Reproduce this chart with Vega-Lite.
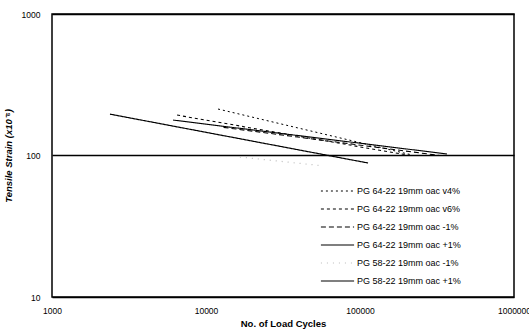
{
  "$schema": "https://vega.github.io/schema/vega-lite/v6.json",
  "width": 462,
  "height": 283,
  "autosize": {"type": "none"},
  "padding": {"left": 52, "top": 14, "right": 15, "bottom": 34},
  "background": "white",
  "config": {
    "view": {"stroke": "black", "strokeWidth": 1.5},
    "font": "Liberation Sans",
    "axis": {"labelFont": "Liberation Sans", "labelColor": "black", "titleColor": "black", "domain": false, "ticks": false}
  },
  "data": {
    "values": [
      {"series": "PG 64-22 19mm oac v4%", "cycles": 11970, "strain": 213},
      {"series": "PG 64-22 19mm oac v4%", "cycles": 217000, "strain": 101},
      {"series": "PG 64-22 19mm oac v6%", "cycles": 6490, "strain": 193},
      {"series": "PG 64-22 19mm oac v6%", "cycles": 211000, "strain": 100},
      {"series": "PG 64-22 19mm oac -1%", "cycles": 13000, "strain": 158},
      {"series": "PG 64-22 19mm oac -1%", "cycles": 330000, "strain": 100},
      {"series": "PG 64-22 19mm oac +1%", "cycles": 6110, "strain": 178},
      {"series": "PG 64-22 19mm oac +1%", "cycles": 367000, "strain": 102.5},
      {"series": "PG 58-22 19mm oac -1%", "cycles": 16600, "strain": 97.5},
      {"series": "PG 58-22 19mm oac -1%", "cycles": 55000, "strain": 85},
      {"series": "PG 58-22 19mm oac +1%", "cycles": 2380, "strain": 196},
      {"series": "PG 58-22 19mm oac +1%", "cycles": 112800, "strain": 88.5}
    ]
  },
  "mark": {"type": "line", "clip": true},
  "encoding": {
    "x": {
      "field": "cycles", "type": "quantitative",
      "scale": {"type": "log", "domain": [1000, 1000000], "nice": false},
      "axis": {"values": [1000, 10000, 100000, 1000000], "format": "d", "grid": false,
               "labelFontSize": 8.5, "labelPadding": 9, "labelFlush": false,
               "title": "No. of Load Cycles", "titleFontSize": 9.5, "titleFontWeight": "bold", "titlePadding": 4}
    },
    "y": {
      "field": "strain", "type": "quantitative",
      "scale": {"type": "log", "domain": [10, 1000], "nice": false},
      "axis": {"values": [10, 100, 1000], "format": "d", "grid": true, "gridColor": "black", "gridWidth": 1.3, "gridOpacity": 1,
               "labelFontSize": 8.5, "labelPadding": 12,
               "title": "Tensile Strain (x10⁻⁶)", "titleFontSize": 9.5, "titleFontWeight": "bold", "titleFontStyle": "italic", "titlePadding": 8}
    },
    "detail": {"field": "series"},
    "color": {
      "field": "series", "type": "nominal",
      "scale": {
        "domain": ["PG 64-22 19mm oac v4%", "PG 64-22 19mm oac v6%", "PG 64-22 19mm oac -1%", "PG 64-22 19mm oac +1%", "PG 58-22 19mm oac -1%", "PG 58-22 19mm oac +1%"],
        "range": ["#000000", "#000000", "#000000", "#000000", "#bbbbbb", "#000000"]
      },
      "legend": {
        "title": null, "orient": "none", "legendX": 268, "legendY": 169,
        "symbolType": "stroke", "symbolSize": 1100, "labelFontSize": 9, "labelFont": "Liberation Sans", "labelColor": "black",
        "clipHeight": 16, "rowPadding": 2, "labelOffset": 2
      }
    },
    "strokeDash": {
      "field": "series", "type": "nominal",
      "scale": {
        "domain": ["PG 64-22 19mm oac v4%", "PG 64-22 19mm oac v6%", "PG 64-22 19mm oac -1%", "PG 64-22 19mm oac +1%", "PG 58-22 19mm oac -1%", "PG 58-22 19mm oac +1%"],
        "range": [[2, 3], [3, 3], [5, 3], [1, 0], [1, 5], [1, 0]]
      },
      "legend": null
    },
    "strokeWidth": {
      "field": "series", "type": "nominal",
      "scale": {
        "domain": ["PG 64-22 19mm oac v4%", "PG 64-22 19mm oac v6%", "PG 64-22 19mm oac -1%", "PG 64-22 19mm oac +1%", "PG 58-22 19mm oac -1%", "PG 58-22 19mm oac +1%"],
        "range": [1, 1.2, 1.4, 2.8, 1, 2.2]
      },
      "legend": null
    }
  }
}
